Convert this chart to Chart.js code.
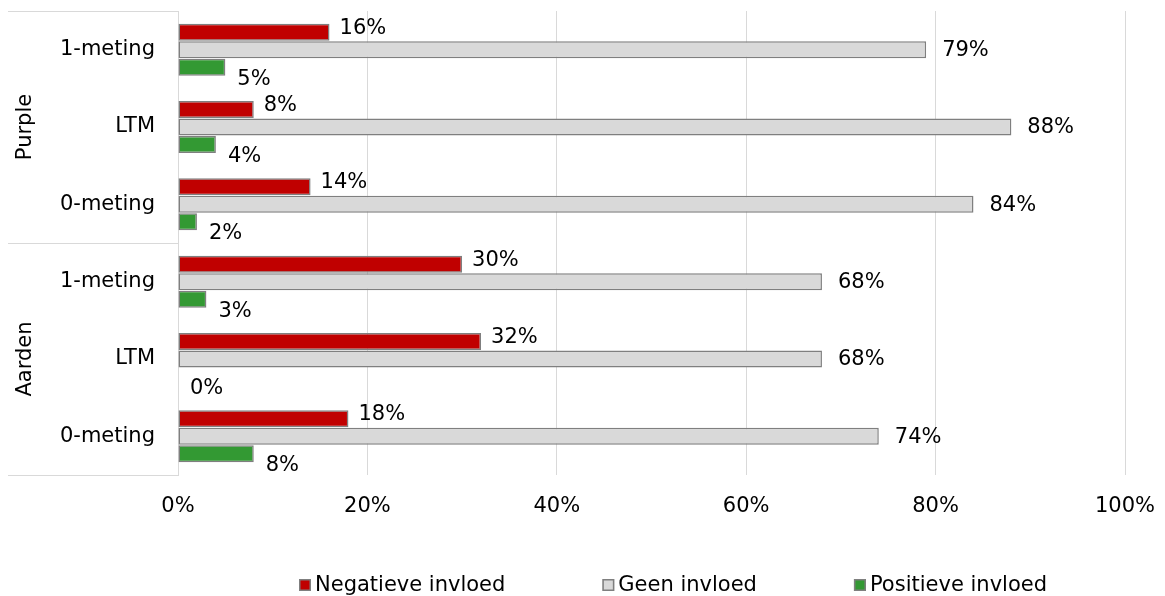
<!DOCTYPE html>
<html>
<head>
<meta charset="utf-8">
<script src="https://cdn.jsdelivr.net/npm/chart.js@4/dist/chart.umd.min.js"></script>
<style>
  html, body { margin: 0; padding: 0; background: #fff; }
  #wrap { width: 1165px; height: 596px; }
</style>
</head>
<body>
<div id="wrap"><canvas id="chart"></canvas></div>
<script>
'use strict';

/* ── Data ── */
const categories = ['1-meting', 'LTM', '0-meting', '1-meting', 'LTM', '0-meting'];
const groups     = ['Purple', 'Aarden'];
const groupSize  = 3;
const negatief   = [16, 8, 14, 30, 32, 18];
const geen       = [79, 88, 84, 68, 68, 74];
const positief   = [5, 4, 2, 3, 0, 8];
const xTicks     = [0, 20, 40, 60, 80, 100];

const seriesNames  = ['Negatieve invloed', 'Geen invloed', 'Positieve invloed'];
const seriesColors = ['#c00000', '#d9d9d9', '#339933'];
// label offset (dx, dy) from the bar end, per series
const labelShift   = [[10, -4], [16, 1], [12, 12]];

const GRID = '#d9d9d9';
const EDGE = '#7f7f7f';
const FONT = 'DejaVu Sans';

Chart.defaults.font.family = FONT;
Chart.defaults.font.size = 21;
Chart.defaults.color = '#000';

/* ── Value labels next to each bar ── */
const valueLabels = {
  id: 'valueLabels',
  afterDatasetsDraw(chart) {
    const ctx = chart.ctx;
    ctx.save();
    ctx.font = `21px ${FONT}`;
    ctx.fillStyle = '#000';
    ctx.textAlign = 'left';
    ctx.textBaseline = 'middle';
    chart.data.datasets.forEach((ds, i) => {
      const meta = chart.getDatasetMeta(i);
      const [dx, dy] = labelShift[i];
      meta.data.forEach((bar, j) => {
        ctx.fillText(ds.data[j] + '%', bar.x + dx, bar.y + dy);
      });
    });
    ctx.restore();
  }
};

/* ── Group column: separators + rotated group names ── */
const groupColumn = {
  id: 'groupColumn',
  afterDraw(chart) {
    const ctx = chart.ctx;
    const y = chart.scales.y;
    const area = chart.chartArea;
    const left = y.left;

    const bounds = [area.top];
    for (let g = 1; g < groups.length; g++) {
      const k = g * groupSize;
      bounds.push((y.getPixelForTick(k - 1) + y.getPixelForTick(k)) / 2);
    }
    bounds.push(area.bottom);

    ctx.save();
    ctx.strokeStyle = GRID;
    ctx.lineWidth = 1;
    bounds.forEach(b => {
      const yy = Math.round(b) + 0.5;
      ctx.beginPath();
      ctx.moveTo(left, yy);
      ctx.lineTo(area.left, yy);
      ctx.stroke();
    });

    ctx.font = `21px ${FONT}`;
    ctx.fillStyle = '#000';
    ctx.textAlign = 'center';
    ctx.textBaseline = 'middle';
    groups.forEach((name, g) => {
      const mid = (bounds[g] + bounds[g + 1]) / 2;
      ctx.save();
      ctx.translate(left + 18, mid);
      ctx.rotate(-Math.PI / 2);
      ctx.fillText(name, 0, 0);
      ctx.restore();
    });
    ctx.restore();
  }
};

/* ── Legend: boxes + names, even gaps between items ── */
const rowLegend = {
  id: 'rowLegend',
  afterDraw(chart) {
    const ctx = chart.ctx;
    const box = 12;
    const gap = 97;
    const baseline = chart.height - 5;
    let x = chart.chartArea.left + 121;
    ctx.save();
    ctx.font = `21px ${FONT}`;
    ctx.textAlign = 'left';
    ctx.textBaseline = 'alphabetic';
    seriesNames.forEach((name, i) => {
      ctx.fillStyle = seriesColors[i];
      ctx.fillRect(x, baseline - box, box, box);
      ctx.strokeStyle = EDGE;
      ctx.lineWidth = 1.5;
      ctx.strokeRect(x + 0.75, baseline - box + 0.75, box - 1.5, box - 1.5);
      ctx.fillStyle = '#000';
      ctx.fillText(name, x + box + 4, baseline);
      x += box + 4 + ctx.measureText(name).width + gap;
    });
    ctx.restore();
  }
};

const seriesData = [negatief, geen, positief];

new Chart(document.getElementById('chart'), {
  type: 'bar',
  data: {
    labels: categories,
    datasets: seriesData.map((d, i) => ({
      label: seriesNames[i],
      data: d,
      backgroundColor: seriesColors[i],
      borderColor: EDGE,
      borderWidth: c => (c.raw === 0 ? 0 : 1.5),
      borderSkipped: false,
      barPercentage: 0.97,
      categoryPercentage: 0.68,
    })),
  },
  plugins: [valueLabels, groupColumn, rowLegend],
  options: {
    indexAxis: 'y',
    responsive: true,
    maintainAspectRatio: false,
    animation: false,
    layout: { padding: { left: 8, top: 11, right: 40, bottom: 0 } },
    plugins: {
      legend: { display: false },
      tooltip: { enabled: false },
    },
    scales: {
      x: {
        min: 0,
        max: 100,
        afterBuildTicks: s => { s.ticks = xTicks.map(v => ({ value: v })); },
        afterFit: s => {
          s.height = 121;
          s.paddingLeft = 0;
          s.paddingRight = 0;
        },
        ticks: { padding: 19, callback: v => v + '%' },
        grid: { color: GRID, drawTicks: false },
        border: { display: false },
      },
      y: {
        afterFit: s => {
          s.width = 170;
          s.paddingTop = 0;
          s.paddingBottom = 0;
        },
        ticks: { padding: 23 },
        grid: { display: false, drawTicks: false },
        border: { display: true, color: GRID, width: 1 },
      },
    },
  },
});
</script>
</body>
</html>
